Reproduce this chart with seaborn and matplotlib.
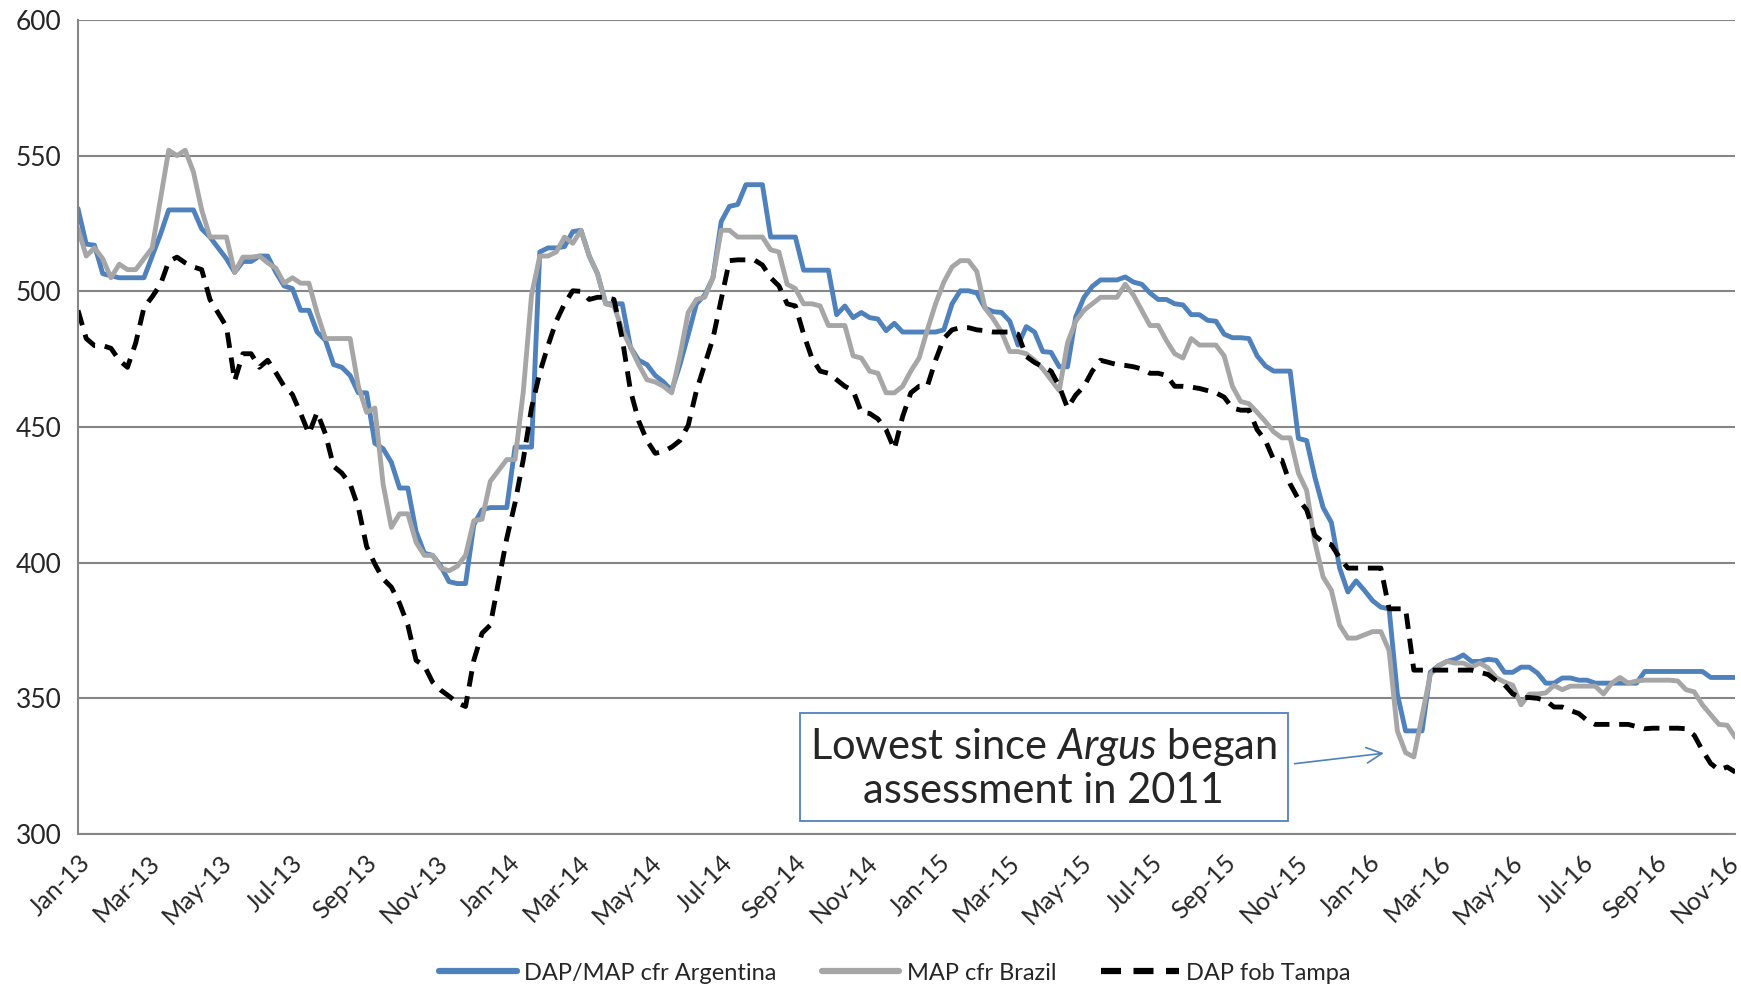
import pandas as pd
import matplotlib.pyplot as plt
import matplotlib.dates as mdates
import seaborn as sns

# weekly prices, $/t (first week Jan-13)
start_date = '2013-01-01'

argentina = [
    530.5, 517.4, 517, 506.5, 505.7, 505, 505, 505, 505, 513,
    521, 530, 530, 530, 530, 523, 520, 516, 512, 507,
    511, 511, 513, 513, 507, 502, 501, 493, 493, 485,
    482, 473, 472, 469, 462.6, 462.6, 444, 442, 437, 427.5,
    427.5, 411.5, 403.5, 402.7, 398.7, 393, 392.3, 392.3, 414, 419.5,
    420.3, 420.3, 420.3, 442.6, 442.6, 442.6, 514.5, 516, 516, 516.5,
    522, 522.5, 513, 506.5, 495.4, 495.4, 495.4, 479.4, 474.6, 473,
    469, 466.6, 463.4, 473, 484, 495.4, 498.6, 505, 525.7, 531.3,
    532, 539.3, 539.3, 539.3, 520, 520, 520, 520, 507.8, 507.8,
    507.8, 507.8, 491.4, 494.6, 490.3, 492.2, 490.3, 489.8, 485.5, 488.2,
    485, 485, 485, 485, 485, 485.8, 495.4, 500.2, 500.2, 499.4,
    493.8, 492.5, 492.2, 489, 480.2, 487, 485, 477.8, 477.5, 472.2,
    472.2, 490.6, 497.8, 501.8, 504.2, 504.2, 504.2, 505.3, 503.4, 502.6,
    499.4, 497, 497, 495.4, 495, 491.4, 491.4, 489.3, 489, 484.2,
    482.9, 482.9, 482.6, 476.2, 472.5, 470.6, 470.6, 470.6, 445.8, 445,
    431.5, 420.3, 414.8, 398, 389.2, 393.3, 389.8, 386, 383.6, 383,
    351.6, 338, 338, 338, 359.6, 362, 363.6, 364.4, 366, 363.6,
    363.6, 364.4, 364, 359.6, 359.6, 361.5, 361.5, 359.3, 355.6, 355.6,
    357.5, 357.5, 356.7, 356.7, 355.6, 355.6, 355.6, 355.6, 355.6, 355.6,
    359.9, 359.9, 359.9, 359.9, 359.9, 359.9, 359.9, 359.9, 357.7, 357.7,
    357.7, 357.7,
]

brazil = [
    523, 513, 516, 512, 505, 510, 508, 508, 512, 516,
    534, 552, 550, 552, 544, 530, 520, 520, 520, 507,
    512.6, 512.6, 513, 510.5, 508.5, 503, 505, 503, 503, 492,
    482.6, 482.6, 482.6, 482.6, 465, 455.4, 457, 429, 413, 418,
    418, 407.5, 402.7, 402.7, 398, 397, 398.7, 402.7, 415.5, 416,
    430, 434, 438, 438, 463, 498.6, 513, 513, 514.5, 520,
    517.7, 522.5, 513, 506.5, 495.4, 494.6, 485.8, 479.4, 473, 467.4,
    466.6, 465, 462.6, 476.2, 492.2, 497, 497.8, 505, 522.5, 522.5,
    520, 520, 520, 520, 515.3, 514.5, 502.6, 501, 495.4, 495.4,
    494.6, 487.4, 487.4, 487.4, 476.2, 475.4, 470.6, 469.8, 462.6, 462.6,
    465, 470.6, 475.4, 485.8, 495.4, 503.4, 509, 511.3, 511.3, 507.3,
    493.8, 489.8, 485, 477.8, 477.8, 477, 474.6, 471.4, 467.4, 463.4,
    481, 489, 493, 495.4, 497.8, 497.8, 497.8, 502.6, 498.6, 493,
    487.4, 487.4, 481.8, 477, 475.4, 482.6, 480.2, 480.2, 480.2, 476.2,
    465, 459.4, 458.6, 455.4, 452, 448.2, 446, 446, 433, 426.6,
    407.5, 394.7, 389.8, 377, 372.2, 372.2, 373.4, 374.6, 374.6, 367.6,
    338, 330, 328.4, 343.6, 358.8, 362, 363.6, 363, 363, 361.5,
    363, 361.2, 357.6, 356, 354.8, 347.6, 351.6, 351.6, 352, 354.8,
    353.2, 354.5, 354.5, 354.5, 354.5, 351.6, 355.6, 357.7, 355.6, 356.4,
    356.7, 356.7, 356.7, 356.7, 356.4, 353.2, 352.4, 347.6, 344, 340.4,
    340.1, 335.6,
]

tampa = [
    493, 482.6, 480, 480, 479, 474.6, 472, 481, 494, 498,
    502.5, 511, 512.6, 510.5, 509, 508, 497, 492, 487, 467,
    477, 477, 472, 474.6, 470, 465, 462, 455, 447.5, 455.4,
    447.5, 435.5, 433, 429, 420.3, 406, 399.5, 394, 391, 385,
    377, 364, 362, 356, 353, 350.8, 348.4, 347, 364, 374,
    377, 393, 409, 422, 438, 457, 470, 480, 489, 495.4,
    500.2, 500, 497, 497.8, 497.8, 497, 482.6, 463.4, 452.2, 445,
    440.3, 441, 442.6, 445, 450.6, 463.4, 473, 482.6, 497, 511.3,
    511.6, 511.6, 511.6, 509.7, 505, 502, 495.4, 494.6, 484.2, 475.4,
    470.6, 469.8, 467.4, 465, 463.4, 455.4, 455, 453, 449, 441.8,
    453.8, 462.6, 465, 465, 474.6, 482.6, 485.8, 486.6, 486.6, 485.8,
    485.5, 485, 485, 485, 484.2, 476, 473.8, 472.2, 470.6, 465,
    457, 461.8, 465, 470.6, 474.6, 473.8, 473, 472.7, 472.2, 471.4,
    469.8, 469.8, 469, 465, 465, 464.7, 464.2, 463.4, 462.6, 461,
    457, 456.2, 456.2, 449, 445, 438, 437.8, 429, 423.4, 419.5,
    410, 407.5, 406.6, 401.8, 398, 398, 398, 398, 398, 383,
    383, 383, 360.4, 360.4, 360.4, 360.4, 360.4, 360.4, 360.4, 360.4,
    359.6, 358.8, 356.5, 355, 351.6, 350.3, 350.3, 350, 349.2, 346.8,
    346.8, 345.5, 344.4, 341.9, 340.4, 340.4, 340.4, 340.4, 340.4, 339.6,
    338.8, 339, 339, 339, 339, 338.8, 336.4, 330.8, 326, 323.6,
    324.7, 322.8,
]

series_names = ['DAP/MAP cfr Argentina', 'MAP cfr Brazil', 'DAP fob Tampa']
y_ticks = [300, 350, 400, 450, 500, 550, 600]
note_text = 'Lowest since $\\mathit{Argus}$ began\nassessment in 2011'

dates = pd.date_range(start=start_date, periods=len(argentina), freq='7D')
df = pd.DataFrame({'date': dates, 'argentina': argentina, 'brazil': brazil, 'tampa': tampa})

# styling
sns.set_style('white')
plt.rcParams['font.family'] = ['Lato', 'DejaVu Sans']
plt.rcParams['mathtext.fontset'] = 'custom'
plt.rcParams['mathtext.rm'] = 'Lato'
plt.rcParams['mathtext.it'] = 'Lato:italic'

blue = '#4F81BD'
grey = '#A6A6A6'
axis_grey = '#868686'

fig = plt.figure(figsize=(17.41, 9.89), dpi=100)
ax = fig.add_axes([0.0448, 0.1567, 0.952, 0.8231])

sns.lineplot(data=df, x='date', y='argentina', ax=ax, color=blue, lw=3.5, label=series_names[0])
sns.lineplot(data=df, x='date', y='brazil', ax=ax, color=grey, lw=3.5, label=series_names[1])
sns.lineplot(data=df, x='date', y='tampa', ax=ax, color='black', lw=3.5, label=series_names[2],
             dashes=False)
ax.lines[2].set_dashes([3.2, 2.0])

ax.set_xlim(dates[0], dates[-1])
ax.set_ylim(300, 600)
ax.set_yticks(y_ticks)
ax.set_yticklabels([str(v) for v in y_ticks], fontsize=19)

ax.xaxis.set_major_locator(mdates.MonthLocator(bymonth=[1, 3, 5, 7, 9, 11]))
ax.xaxis.set_major_formatter(mdates.DateFormatter('%b-%y'))
plt.setp(ax.get_xticklabels(), rotation=45, ha='right', rotation_mode='anchor', fontsize=18)

ax.set_xlabel('')
ax.set_ylabel('')
ax.grid(axis='y', color=axis_grey, lw=1.5)
ax.set_axisbelow(True)
for side in ['top', 'right']:
    ax.spines[side].set_visible(False)
for side in ['left', 'bottom']:
    ax.spines[side].set_color(axis_grey)
    ax.spines[side].set_linewidth(1.5)
ax.tick_params(axis='x', which='major', direction='out', length=8, width=1.5, color=axis_grey, pad=4)
ax.tick_params(axis='y', which='major', direction='out', length=8, width=1.5, color=axis_grey, pad=4)

# annotation box with arrow to the Feb-16 low
note_x = dates[0] + pd.Timedelta(days=7 * 117.1)
ax.text(note_x, 324.3, note_text, ha='center', va='center', fontsize=30, linespacing=1.15,
        bbox=dict(boxstyle='square,pad=0.25', fc='white', ec=blue, lw=1.3))
ax.annotate('', xy=(dates[0] + pd.Timedelta(days=7 * 158.7), 329.9),
            xytext=(dates[0] + pd.Timedelta(days=7 * 147.2), 325.8),
            arrowprops=dict(arrowstyle='->', color=blue, lw=1.2, mutation_scale=28))

ax.get_legend().remove()
handles, labels = ax.get_legend_handles_labels()
leg = fig.legend(handles, labels, loc='center', bbox_to_anchor=(0.514, 0.016), ncol=3, frameon=False,
                 fontsize=17, handlelength=3.3, handletextpad=0.3, columnspacing=1.9)
for h in leg.legend_handles:
    h.set_linewidth(4.5)

plt.savefig('out.png', dpi=100)
